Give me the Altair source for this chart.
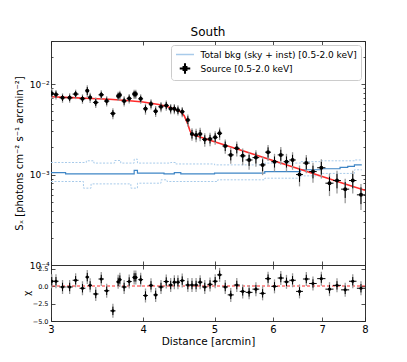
import altair as alt
import pandas as pd

# ---------------- data ----------------
x_src = [3.007, 3.047, 3.11, 3.18, 3.24, 3.31, 3.36, 3.39, 3.45, 3.51, 3.57, 3.64, 3.70, 3.72,
         3.77, 3.83, 3.89, 3.91, 3.97, 4.03, 4.10, 4.16, 4.23, 4.30, 4.36, 4.41, 4.46, 4.52,
         4.60, 4.66, 4.72, 4.78, 4.85, 4.93, 5.01, 5.08, 5.17, 5.26, 5.36, 5.46, 5.57, 5.69,
         5.81, 5.91, 6.03, 6.15, 6.26, 6.38, 6.52, 6.66, 6.80, 6.98, 7.16, 7.33, 7.52, 7.70, 7.90]
x_halfwidth = [0.02, 0.025, 0.03, 0.03, 0.03, 0.03, 0.02, 0.02, 0.03, 0.03, 0.03, 0.03, 0.02, 0.02,
               0.03, 0.03, 0.02, 0.02, 0.03, 0.03, 0.03, 0.03, 0.035, 0.035, 0.03, 0.025, 0.03, 0.035,
               0.035, 0.03, 0.03, 0.035, 0.04, 0.04, 0.04, 0.04, 0.045, 0.05, 0.05, 0.05, 0.06, 0.06,
               0.055, 0.055, 0.06, 0.06, 0.055, 0.065, 0.07, 0.07, 0.08, 0.09, 0.09, 0.09, 0.095, 0.09, 0.1]
sx_src = [7.90e-3, 7.70e-3, 7.06e-3, 7.06e-3, 7.76e-3, 6.89e-3, 8.44e-3, 7.13e-3, 6.28e-3, 7.62e-3,
          6.50e-3, 4.75e-3, 7.38e-3, 7.57e-3, 6.50e-3, 6.95e-3, 7.76e-3, 7.76e-3, 6.89e-3, 5.34e-3,
          6.02e-3, 5.03e-3, 5.62e-3, 5.82e-3, 5.34e-3, 5.34e-3, 5.16e-3, 4.95e-3, 4.01e-3, 2.81e-3,
          2.74e-3, 2.81e-3, 2.45e-3, 2.48e-3, 2.58e-3, 2.86e-3, 2.07e-3, 1.65e-3, 1.95e-3, 1.61e-3,
          1.45e-3, 1.54e-3, 1.28e-3, 1.77e-3, 1.39e-3, 1.65e-3, 1.39e-3, 1.45e-3, 1.00e-3, 1.34e-3,
          1.08e-3, 1.19e-3, 8.03e-4, 8.59e-4, 6.90e-4, 8.59e-4, 5.97e-4]
# relative errors: total (grey) and statistical (black)
err_tot = [0.13, 0.12, 0.12, 0.12, 0.12, 0.12, 0.15, 0.13, 0.13, 0.12, 0.13, 0.14, 0.12, 0.12,
           0.13, 0.12, 0.12, 0.12, 0.12, 0.14, 0.13, 0.14, 0.13, 0.13, 0.13, 0.13, 0.13, 0.13,
           0.15, 0.16, 0.17, 0.17, 0.17, 0.17, 0.17, 0.16, 0.18, 0.20, 0.19, 0.21, 0.22, 0.21,
           0.23, 0.20, 0.22, 0.22, 0.22, 0.22, 0.26, 0.23, 0.25, 0.24, 0.28, 0.28, 0.30, 0.28, 0.32]
err_stat = [0.08, 0.08, 0.08, 0.08, 0.08, 0.08, 0.10, 0.08, 0.09, 0.08, 0.09, 0.09, 0.08, 0.08,
            0.09, 0.08, 0.08, 0.08, 0.08, 0.09, 0.09, 0.09, 0.09, 0.09, 0.09, 0.09, 0.09, 0.09,
            0.10, 0.11, 0.11, 0.11, 0.11, 0.11, 0.11, 0.10, 0.12, 0.13, 0.12, 0.14, 0.14, 0.14,
            0.15, 0.13, 0.14, 0.14, 0.14, 0.14, 0.17, 0.15, 0.16, 0.16, 0.18, 0.18, 0.20, 0.18, 0.21]
chi = [0.68, 0.68, -0.14, -0.14, 0.82, -0.32, 1.27, 0.09, -1.14, 1.00, -0.68, -3.55, 0.59, 0.91,
       -0.14, 0.64, 1.23, 1.23, 0.91, -1.36, 0.09, -1.27, -0.14, 0.64, 0.14, 0.55, 0.55, 0.77,
       0.14, 0.14, 0.14, 0.55, -0.14, 0.23, 0.68, 1.59, -0.14, -1.27, 0.14, -0.77, -0.91, -0.45,
       -1.05, 1.05, -0.05, 1.14, 0.59, 0.82, -0.77, 1.00, 0.36, 1.05, -0.45, 0.09, -0.55, 0.68, -0.32]

model_x = [3.0, 3.2, 3.4, 3.6, 3.8, 4.0, 4.2, 4.3, 4.4, 4.5, 4.55, 4.6, 4.63, 4.66, 4.7,
           5.0, 5.5, 6.0, 6.5, 7.0, 7.5, 8.0]
model_y = [7.25e-3, 7.1e-3, 6.95e-3, 6.8e-3, 6.6e-3, 6.35e-3, 5.95e-3, 5.7e-3, 5.35e-3, 4.95e-3,
           4.45e-3, 3.6e-3, 3.05e-3, 2.78e-3, 2.72e-3, 2.3e-3, 1.8e-3, 1.43e-3, 1.16e-3, 9.5e-4,
           7.9e-4, 6.7e-4]

bkg_x = [3.0, 3.14, 3.89, 3.93, 4.27, 4.41, 4.50, 5.00, 5.85, 6.54, 6.98, 7.40, 7.58, 7.74, 7.92]
bkg_y = [1.05e-3, 1.02e-3, 1.11e-3, 1.04e-3, 1.02e-3, 1.05e-3, 1.02e-3, 1.04e-3, 1.08e-3,
         1.13e-3, 1.16e-3, 1.20e-3, 1.23e-3, 1.28e-3, 1.28e-3]
bkg_hi_x = [3.0, 3.35, 3.43, 3.66, 3.73, 3.89, 3.93, 4.36, 4.43, 5.00, 5.85, 6.54, 6.98, 7.74, 7.92]
bkg_hi_y = [1.36e-3, 1.42e-3, 1.34e-3, 1.43e-3, 1.34e-3, 1.48e-3, 1.34e-3, 1.36e-3, 1.31e-3,
            1.28e-3, 1.34e-3, 1.39e-3, 1.42e-3, 1.45e-3, 1.45e-3]
bkg_lo_x = [3.0, 3.32, 3.40, 3.85, 3.93, 4.23, 4.31, 5.05, 5.85, 6.54, 6.98, 7.74, 7.92]
bkg_lo_y = [8.38e-4, 7.08e-4, 7.89e-4, 7.08e-4, 8.03e-4, 8.75e-4, 8.38e-4, 8.75e-4, 9.12e-4,
            9.68e-4, 1.03e-3, 1.13e-3, 1.13e-3]

legend_labels = ["Total bkg (sky + inst) [0.5-2.0 keV]", "Source [0.5-2.0 keV]"]
x_ticks = [3, 4, 5, 6, 7, 8]
y_major = [1e-4, 1e-3, 1e-2]
y_minor = [2e-4, 3e-4, 4e-4, 5e-4, 6e-4, 7e-4, 8e-4, 9e-4,
           2e-3, 3e-3, 4e-3, 5e-3, 6e-3, 7e-3, 8e-3, 9e-3, 2e-2, 3e-2]
chi_ticks = [2.5, 0.0, -2.5, -5.0]

# ---------------- tables ----------------
src = pd.DataFrame({"x": x_src, "y": sx_src, "chi": chi})
src["xlo"] = [a - b for a, b in zip(x_src, x_halfwidth)]
src["xhi"] = [a + b for a, b in zip(x_src, x_halfwidth)]
src["ylo_t"] = [v * (1 - e) for v, e in zip(sx_src, err_tot)]
src["yhi_t"] = [v * (1 + e) for v, e in zip(sx_src, err_tot)]
src["ylo_s"] = [v * (1 - e) for v, e in zip(sx_src, err_stat)]
src["yhi_s"] = [v * (1 + e) for v, e in zip(sx_src, err_stat)]
src["clo_t"] = src["chi"] - 1.0
src["chi_t"] = src["chi"] + 1.0
src["clo_s"] = src["chi"] - 0.6
src["chi_s"] = src["chi"] + 0.6

model = pd.DataFrame({"x": model_x, "y": model_y})
bkg = pd.DataFrame({"x": bkg_x, "y": bkg_y})
bkg_hi = pd.DataFrame({"x": bkg_hi_x, "y": bkg_hi_y})
bkg_lo = pd.DataFrame({"x": bkg_lo_x, "y": bkg_lo_y})
leg = pd.DataFrame({"k": legend_labels})

FONT = "DejaVu Sans"
XS = alt.Scale(type="log", domain=[3, 8], nice=False)
YS = alt.Scale(type="log", domain=[1e-4, 0.03], nice=False)
YR = alt.Scale(domain=[-5, 3], nice=False, zero=False)
TICK_C = "#222222"


def tick_axis(orient, values, size):
    return alt.Axis(orient=orient, values=values, labels=False, domain=False, grid=False,
                    ticks=True, tickSize=size, offset=-size, tickColor=TICK_C,
                    tickWidth=0.8, title=None)


def tick_layers(data, yfield, yscale, ymaj, ymin):
    base = alt.Chart(data).mark_point(opacity=0)
    layers = [
        base.encode(x=alt.X("x:Q", scale=XS, axis=tick_axis("bottom", x_ticks, 4)),
                    y=alt.Y(yfield, scale=yscale, axis=tick_axis("left", ymaj, 4))),
        base.encode(x=alt.X("x:Q", scale=XS, axis=tick_axis("top", x_ticks, 4)),
                    y=alt.Y(yfield, scale=yscale, axis=tick_axis("right", ymaj, 4))),
    ]
    if ymin:
        layers.append(base.encode(x=alt.X("x:Q", scale=XS, axis=None),
                                  y=alt.Y(yfield, scale=yscale, axis=tick_axis("left", ymin, 2))))
        layers.append(base.encode(x=alt.X("x:Q", scale=XS, axis=None),
                                  y=alt.Y(yfield, scale=yscale, axis=tick_axis("right", ymin, 2))))
    return layers


# ---------------- upper panel ----------------
def bline(df, color, width, dash=None):
    kw = dict(interpolate="step-after", color=color, strokeWidth=width, clip=True)
    if dash:
        kw["strokeDash"] = dash
    return alt.Chart(df).mark_line(**kw).encode(
        x=alt.X("x:Q", scale=XS, axis=None), y=alt.Y("y:Q", scale=YS, axis=None))

up_hi = bline(bkg_hi, "#a8cbea", 1, [2, 1.5])
up_lo = bline(bkg_lo, "#a8cbea", 1, [2, 1.5])
up_bkg = bline(bkg, "#3f86c6", 1.2)

up_model = alt.Chart(model).mark_line(color="#ff2a2a", strokeWidth=1.6, clip=True).encode(
    x=alt.X("x:Q", scale=XS, axis=None), y=alt.Y("y:Q", scale=YS, axis=None))

base_up = alt.Chart(src)
up_errt = base_up.mark_rule(color="#9a9a9a", strokeWidth=1.3, clip=True).encode(
    x=alt.X("x:Q", scale=XS, axis=None), y=alt.Y("ylo_t:Q", scale=YS, axis=None), y2="yhi_t:Q")
up_errs = base_up.mark_rule(color="black", strokeWidth=1, clip=True).encode(
    x=alt.X("x:Q", scale=XS, axis=None), y=alt.Y("ylo_s:Q", scale=YS, axis=None), y2="yhi_s:Q")
up_xerr = base_up.mark_rule(color="black", strokeWidth=1, clip=True).encode(
    x=alt.X("xlo:Q", scale=XS, axis=None), x2="xhi:Q", y=alt.Y("y:Q", scale=YS, axis=None))
up_pts = base_up.mark_point(filled=True, color="black", size=16, opacity=1, clip=True).encode(
    x=alt.X("x:Q", scale=XS, axis=None),
    y=alt.Y("y:Q", scale=YS,
            axis=alt.Axis(orient="left", values=y_major, ticks=False, domain=False, grid=False,
                          labelExpr="datum.value > 0.005 ? '10⁻²' : (datum.value > 0.0005 ? '10⁻³' : '10⁻⁴')",
                          labelFontSize=9, labelPadding=2, labelFlush=False,
                          title="Sₓ [photons cm⁻² s⁻¹ arcmin⁻²]", titleFontSize=10,
                          titleX=-32, titleBaseline="middle")))

PATH_LINE = "M-2,0H2"
PATH_SRC = ("M-1,-0.06H1V0.06H-1Z M-0.06,-1H0.06V1H-0.06Z M-0.38,-0.38H0.38V0.38H-0.38Z")
LEG = alt.Legend(title=None, orient="top-right", offset=4, padding=4, strokeColor="#cccccc",
                 fillColor="white", cornerRadius=3, labelFontSize=9, labelFont=FONT,
                 labelColor="black", symbolSize=81, symbolStrokeWidth=1.5, symbolOpacity=1,
                 symbolOffset=4.5, labelOffset=10, rowPadding=1, labelLimit=300)
up_leg = alt.Chart(leg).mark_point(filled=True, opacity=0).encode(
    fill=alt.Fill("k:N", scale=alt.Scale(domain=legend_labels, range=["#a8cbea", "black"]), legend=LEG),
    stroke=alt.Stroke("k:N", scale=alt.Scale(domain=legend_labels, range=["#a8cbea", "black"]), legend=LEG),
    shape=alt.Shape("k:N", scale=alt.Scale(domain=legend_labels, range=[PATH_LINE, PATH_SRC]), legend=LEG),
)

upper = alt.layer(
    up_hi, up_lo, up_bkg, up_model, up_errt, up_errs, up_xerr, up_pts, up_leg,
    *tick_layers(src, "y:Q", YS, y_major, y_minor)
).resolve_axis(x="independent", y="independent").properties(
    width=314, height=224,
    title=alt.Title("South", fontSize=12, fontWeight="normal", font=FONT, frame="group",
                    anchor="middle", offset=2, color="black"))

# ---------------- lower panel ----------------
zero = alt.Chart(pd.DataFrame({"y": [0.0]})).mark_rule(
    color="#ff2a2a", strokeDash=[3, 2], strokeWidth=1).encode(
    y=alt.Y("y:Q", scale=YR, axis=None))
lo_errt = base_up.mark_rule(color="#9a9a9a", strokeWidth=1.3, clip=True).encode(
    x=alt.X("x:Q", scale=XS, axis=None), y=alt.Y("clo_t:Q", scale=YR, axis=None), y2="chi_t:Q")
lo_errs = base_up.mark_rule(color="black", strokeWidth=1, clip=True).encode(
    x=alt.X("x:Q", scale=XS, axis=None), y=alt.Y("clo_s:Q", scale=YR, axis=None), y2="chi_s:Q")
lo_xerr = base_up.mark_rule(color="black", strokeWidth=1, clip=True).encode(
    x=alt.X("xlo:Q", scale=XS, axis=None), x2="xhi:Q", y=alt.Y("chi:Q", scale=YR, axis=None))
lo_pts = base_up.mark_point(filled=True, color="black", size=10, opacity=1, clip=True).encode(
    x=alt.X("x:Q", scale=XS,
            axis=alt.Axis(orient="bottom", values=x_ticks, ticks=False, domain=False, grid=False,
                          format="d", labelFontSize=10, labelPadding=3, labelFlush=False,
                          title="Distance [arcmin]", titleFontSize=10.5, titlePadding=2)),
    y=alt.Y("chi:Q", scale=YR,
            axis=alt.Axis(orient="left", values=chi_ticks, ticks=False, domain=False, grid=False,
                          format=".1f", labelFontSize=6.5, labelPadding=3, labelFlush=False,
                          title="χ", titleFontSize=9, titleX=-25, titleBaseline="middle")))

lower = alt.layer(
    zero, lo_errt, lo_errs, lo_xerr, lo_pts,
    *tick_layers(src, "chi:Q", YR, chi_ticks, None)
).resolve_axis(x="independent", y="independent").properties(width=314, height=56)

chart = alt.vconcat(upper, lower, spacing=0, bounds="flush").properties(
    padding={"left": 5, "top": 17, "right": 5, "bottom": 5}
).configure(font=FONT).configure_axis(
    labelColor="black", titleColor="black", labelFont=FONT, titleFont=FONT,
    titleFontWeight="normal"
).configure_view(stroke="#333333", strokeWidth=1)

chart.save("out.html", embed_options={"renderer": "svg", "actions": False})
